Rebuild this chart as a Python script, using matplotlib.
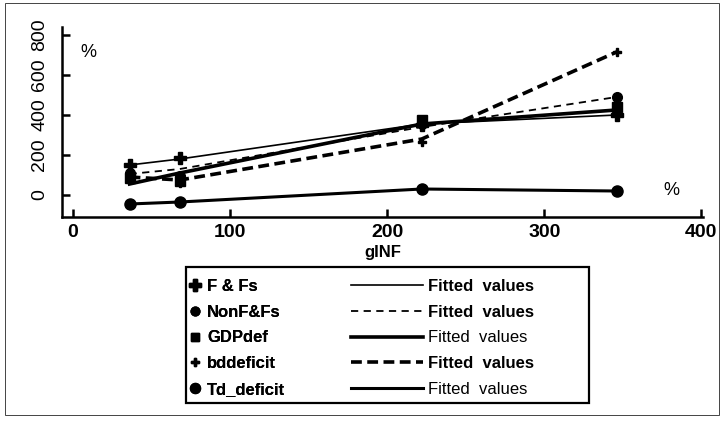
import matplotlib
matplotlib.use("Agg")
import matplotlib.pyplot as plt
from matplotlib.lines import Line2D
from matplotlib.patches import Rectangle
from matplotlib import font_manager

names = {f.name for f in font_manager.fontManager.ttflist}
narrow = 'Liberation Sans Narrow' if 'Liberation Sans Narrow' in names else 'Liberation Sans'
plt.rcParams['font.family'] = ['Liberation Sans', 'DejaVu Sans']

# ---- data ----
ginf = [36, 68, 222, 346]
series_names = ["F & Fs", "NonF&Fs", "GDPdef", "bddeficit", "Td_deficit"]
ff = [150, 185, 350, 400]
nonff = [110, 95, 355, 490]
gdpdef = [85, 70, 375, 440]
bddeficit = [95, 60, 265, 715]
td_deficit = [-45, -35, 30, 20]

ff_fit = [150, 180, 355, 400]
nonff_fit = [105, 130, 340, 490]
gdpdef_fit = [55, 110, 355, 425]
bddeficit_fit = [90, 75, 280, 715]
td_deficit_fit = [-45, -35, 30, 20]

xticks = [0, 100, 200, 300, 400]
yticks = [0, 200, 400, 600, 800]

fig = plt.figure(figsize=(7.23, 4.26), dpi=100)
ax = fig.add_axes([62/723, 1-217/426, 641/723, 190/426])

markers = ['P', 'o', 's', 'P', 'o']
msizes = [9, 7, 7, 6, 8]
values = [ff, nonff, gdpdef, bddeficit, td_deficit]
fits = [ff_fit, nonff_fit, gdpdef_fit, bddeficit_fit, td_deficit_fit]
lstyles = [dict(lw=1.2, ls='-'),
           dict(lw=1.3, ls=(0, (4, 3))),
           dict(lw=2.6, ls='-'),
           dict(lw=2.6, ls=(0, (3, 1.5))),
           dict(lw=2.2, ls='-')]

for v, f, m, ms, st in zip(values, fits, markers, msizes, lstyles):
    ax.plot(ginf, f, color='black', **st)
    ax.plot(ginf, v, linestyle='none', marker=m, markersize=ms, color='black')

ax.set_xlim(-7, 401)
ax.set_ylim(-110, 840)
ax.set_xticks(xticks)
ax.set_yticks(yticks)
ax.set_xticklabels([str(t) for t in xticks], fontsize=14, fontweight='bold', family=narrow)
ax.set_yticklabels([str(t) for t in yticks], fontsize=14, rotation=90, va='center', family=narrow)
ax.tick_params(direction='in', length=6, width=1.8)
ax.tick_params(axis='y', pad=10)
ax.tick_params(axis='x', pad=5)
for s in ['top', 'right']:
    ax.spines[s].set_visible(False)
for s in ['left', 'bottom']:
    ax.spines[s].set_linewidth(1.8)
ax.set_xlabel("gINF", fontsize=12, fontweight='bold', labelpad=3)

ax.text(0.041, 0.868, "%", transform=ax.transAxes, fontsize=13, ha='center', va='center')
ax.text(0.951, 0.142, "%", transform=ax.transAxes, fontsize=13, ha='center', va='center')

# ---- legend ----
mk_handles = [Line2D([], [], ls='none', marker=m, markersize=ms * 0.9, color='black')
              for m, ms in zip(markers, msizes)]
ln_handles = [Line2D([], [], color='black', **st) for st in lstyles]

top_y = 1 - 279/426
leg1 = fig.legend(mk_handles, series_names, loc='upper left',
                  bbox_to_anchor=(188/723, top_y), frameon=False,
                  fontsize=12, handlelength=0.8, handletextpad=0.35,
                  labelspacing=0.64, borderaxespad=0, borderpad=0)
for t in leg1.get_texts():
    t.set_fontweight('bold')
fig.add_artist(leg1)

leg2 = fig.legend(ln_handles, ["Fitted  values"] * 5, loc='upper left',
                  bbox_to_anchor=(351/723, top_y), frameon=False,
                  fontsize=12, handlelength=4.3, handletextpad=0.3,
                  labelspacing=0.64, borderaxespad=0, borderpad=0)
for i, t in enumerate(leg2.get_texts()):
    t.set_fontweight('bold' if i in (0, 1, 3) else 'normal')

fig.add_artist(Rectangle((186/723, 1-403/426), 403/723, 136/426,
                         transform=fig.transFigure, fill=False,
                         edgecolor='black', lw=1.6))
fig.add_artist(Rectangle((5/723, 1-415/426), 714/723, 412/426,
                         transform=fig.transFigure, fill=False,
                         edgecolor='#444444', lw=0.7))

fig.savefig("out.png", dpi=100)
